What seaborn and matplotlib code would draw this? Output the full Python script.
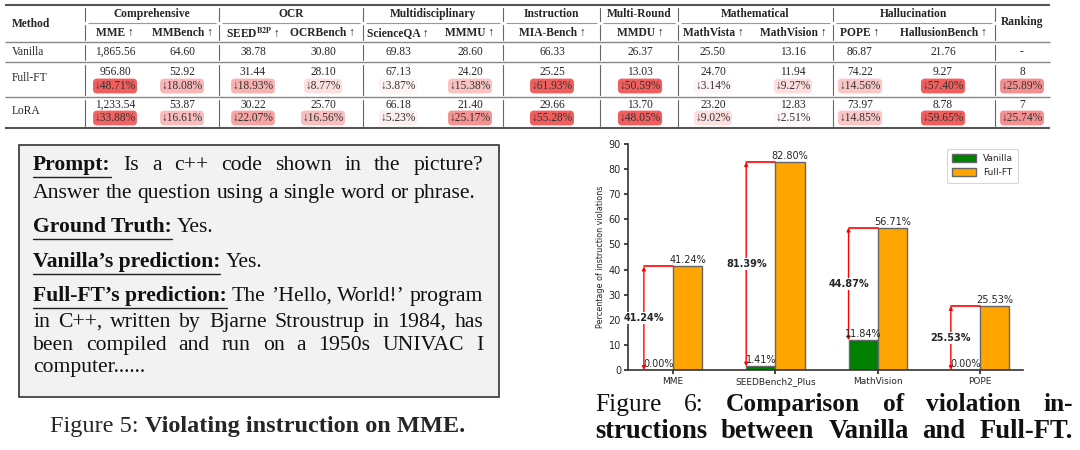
import matplotlib
matplotlib.use("Agg")
import matplotlib.pyplot as plt
import seaborn as sns
import pandas as pd
import numpy as np
from matplotlib.patches import Rectangle

# ---------------- data ----------------
methods = ["Vanilla", "Full-FT", "LoRA"]
group_names = ["Comprehensive", "OCR", "Multidisciplinary", "Instruction",
               "Multi-Round", "Mathematical", "Hallucination"]
group_sizes = [2, 2, 2, 1, 1, 2, 2]
bench_labels = ["MME ↑", "MMBench ↑", r"SEED$^{\mathbf{B2P}}$ ↑", "OCRBench ↑",
                "ScienceQA ↑", "MMMU ↑", "MIA-Bench ↑", "MMDU ↑",
                "MathVista ↑", "MathVision ↑", "POPE ↑", "HallusionBench ↑"]
vanilla_scores = [1865.56, 64.60, 38.78, 30.80, 69.83, 28.60, 66.33, 26.37,
                  25.50, 13.16, 86.87, 21.76]
fullft_scores = [956.80, 52.92, 31.44, 28.10, 67.13, 24.20, 25.25, 13.03,
                 24.70, 11.94, 74.22, 9.27]
lora_scores = [1233.54, 53.87, 30.22, 25.70, 66.18, 21.40, 29.66, 13.70,
               23.20, 12.83, 73.97, 8.78]
fullft_drops = [48.71, 18.08, 18.93, 8.77, 3.87, 15.38, 61.93, 50.59,
                3.14, 9.27, 14.56, 57.40]
lora_drops = [33.88, 16.61, 22.07, 16.56, 5.23, 25.17, 55.28, 48.05,
              9.02, 2.51, 14.85, 59.65]
ranking_values = ["-", "8", "7"]
ranking_drops = [None, 25.89, 25.74]

violation_benchmarks = ["MME", "SEEDBench2_Plus", "MathVision", "POPE"]
violation_vanilla = [0.00, 1.41, 11.84, 0.00]
violation_fullft = [41.24, 82.80, 56.71, 25.53]

# ---------------- setup ----------------
sns.set_theme(style="ticks")
plt.rcParams["font.family"] = ["DejaVu Sans"]
plt.rcParams["mathtext.fontset"] = "stix"
SERIF = ["Liberation Serif", "DejaVu Serif"]

W, H = 1080, 450
fig = plt.figure(figsize=(W / 100, H / 100), dpi=100)
fig.patch.set_facecolor("white")
cv = fig.add_axes([0, 0, 1, 1])
cv.set_xlim(0, W)
cv.set_ylim(H, 0)
cv.axis("off")
renderer = fig.canvas.get_renderer()

# ---------------- table ----------------
TFS = 8.3
col_x = [115, 182, 253, 323, 398, 470, 552, 640, 713, 793, 860, 943]
rank_x = 1022
seps = [85, 219, 363, 503, 600, 678, 833, 995]
tx0, tx1 = 5, 1050


def hline(y, x0, x1, lw, c):
    cv.plot([x0, x1], [y, y], color=c, lw=lw, solid_capstyle="butt")


hline(5, tx0, tx1, 1.5, "#555555")
hline(42, tx0, tx1, 1.0, "#888888")
hline(62, tx0, tx1, 1.0, "#888888")
hline(97, tx0, tx1, 1.0, "#888888")
hline(128, tx0, tx1, 1.5, "#555555")
for i in range(len(group_names)):
    hline(23, seps[i] + 3, seps[i + 1] - 3, 0.8, "#999999")

for y0, y1 in [(8, 21), (25, 40), (45, 60), (65, 95), (100, 126)]:
    for sx in seps:
        cv.plot([sx, sx], [y0, y1], color="#666666", lw=0.8)

cv.text(12, 24, "Method", fontsize=TFS, fontweight="bold", family=SERIF,
        ha="left", va="center")
cv.text(rank_x, 22, "Ranking", fontsize=TFS, fontweight="bold", family=SERIF,
        ha="center", va="center")
for i, g in enumerate(group_names):
    cv.text((seps[i] + seps[i + 1]) / 2, 14, g, fontsize=TFS, fontweight="bold",
            family=SERIF, ha="center", va="center")
for x, lab in zip(col_x, bench_labels):
    cv.text(x, 33, lab, fontsize=TFS, fontweight="bold", family=SERIF,
            ha="center", va="center")

red = np.array([0.94, 0.37, 0.37])


def drop_color(v):
    t = np.clip(v / 35.0, 0, 1) ** 1.2
    return tuple(1 - t * (1 - red))


def drop_text(x, y, v):
    cv.text(x, y, f"↓{v:.2f}%", fontsize=TFS, family=SERIF, ha="center",
            va="center", color="#333333",
            bbox=dict(boxstyle="round,pad=0.12,rounding_size=0.35",
                      fc=drop_color(v), ec="none"))


cv.text(12, 52, methods[0], fontsize=TFS, family=SERIF, ha="left", va="center")
cv.text(12, 78, methods[1], fontsize=TFS, family=SERIF, ha="left", va="center")
cv.text(12, 111, methods[2], fontsize=TFS, family=SERIF, ha="left", va="center")
for i, x in enumerate(col_x):
    cv.text(x, 52, f"{vanilla_scores[i]:,.2f}", fontsize=TFS, family=SERIF,
            ha="center", va="center")
    cv.text(x, 72, f"{fullft_scores[i]:,.2f}", fontsize=TFS, family=SERIF,
            ha="center", va="center")
    drop_text(x, 86, fullft_drops[i])
    cv.text(x, 105, f"{lora_scores[i]:,.2f}", fontsize=TFS, family=SERIF,
            ha="center", va="center")
    drop_text(x, 118, lora_drops[i])
cv.text(rank_x, 52, ranking_values[0], fontsize=TFS, family=SERIF, ha="center", va="center")
cv.text(rank_x, 72, ranking_values[1], fontsize=TFS, family=SERIF, ha="center", va="center")
drop_text(rank_x, 86, ranking_drops[1])
cv.text(rank_x, 105, ranking_values[2], fontsize=TFS, family=SERIF, ha="center", va="center")
drop_text(rank_x, 118, ranking_drops[2])

# ---------------- text box (Figure 5) ----------------
cv.add_patch(Rectangle((19, 145), 480, 252, fc="#f2f2f2", ec="#333333", lw=1.2))
BFS = 15.6


def draw_line(segments, x0, x1, y, size, justify):
    texts, widths = [], []
    for word, bold, under in segments:
        t = cv.text(x0, y, word, fontsize=size, family=SERIF,
                    fontweight="bold" if bold else "normal",
                    ha="left", va="baseline", color="#111111")
        bb = t.get_window_extent(renderer)
        texts.append(t)
        widths.append(bb.width)
    space = 0.25 * size * 100 / 72
    if justify and len(segments) > 1:
        gap = (x1 - x0 - sum(widths)) / (len(segments) - 1)
    else:
        gap = space
    x = x0
    for t, w, (word, bold, under) in zip(texts, widths, segments):
        t.set_x(x)
        if under:
            bb = t.get_window_extent(renderer)
            uy = H - bb.y0 + 1.5
            cv.plot([x, x + w], [uy, uy], color="#222222", lw=1.0)
        x += w + gap
    return x


def words(s, bold=False):
    return [(w, bold, False) for w in s.split()]


bx0, bx1 = 33, 483
draw_line([("Prompt:", True, True)] + words("Is a c++ code shown in the picture?"),
          bx0, bx1, 170, BFS, True)
draw_line(words("Answer the question using a single word or phrase."),
          bx0, bx1, 198, BFS, False)
draw_line([("Ground Truth:", True, True)] + words("Yes."), bx0, bx1, 232, BFS, False)
draw_line([("Vanilla’s prediction:", True, True)] + words("Yes."), bx0, bx1, 267, BFS, False)
draw_line([("Full-FT’s prediction:", True, True)] + words("The ’Hello, World!’ program"),
          bx0, bx1, 301, BFS, True)
draw_line(words("in C++, written by Bjarne Stroustrup in 1984, has"), bx0, bx1, 327, BFS, True)
draw_line(words("been compiled and run on a 1950s UNIVAC I"), bx0, bx1, 350, BFS, True)
draw_line(words("computer......"), bx0, bx1, 372, BFS, False)

# caption Figure 5 (centered)
CFS = 17.5
t1 = cv.text(0, 432, "Figure 5: ", fontsize=CFS, family=SERIF, ha="left", va="baseline")
t2 = cv.text(0, 432, "Violating instruction on MME.", fontsize=CFS, family=SERIF,
             fontweight="bold", ha="left", va="baseline")
w1 = t1.get_window_extent(renderer).width
w2 = t2.get_window_extent(renderer).width
start = 258 - (w1 + w2) / 2
t1.set_x(start)
t2.set_x(start + w1)

# caption Figure 6 (justified)
draw_line([("Figure", False, False), ("6:", False, False)] +
          words("Comparison of violation in-", True), 595, 1073, 411, 18.3, True)
draw_line(words("structions between Vanilla and Full-FT.", True), 595, 1073, 438, 19.2, True)

# ---------------- bar chart (Figure 6) ----------------
ax_l, ax_r, ax_t, ax_b = 628, 1023, 144, 370
bax = fig.add_axes([ax_l / W, (H - ax_b) / H, (ax_r - ax_l) / W, (ax_b - ax_t) / H])
df = pd.DataFrame({
    "Benchmark": violation_benchmarks * 2,
    "Model": ["Vanilla"] * len(violation_benchmarks) + ["Full-FT"] * len(violation_benchmarks),
    "Value": violation_vanilla + violation_fullft,
})
sns.barplot(data=df, x="Benchmark", y="Value", hue="Model",
            hue_order=["Vanilla", "Full-FT"],
            palette={"Vanilla": "green", "Full-FT": "orange"},
            width=0.57, edgecolor="#666666", linewidth=1.0, errorbar=None,
            saturation=1, ax=bax)
bax.set_ylim(0, 90)
bax.set_xlim(-0.44, 3.42)
bax.set_yticks(range(0, 91, 10))
bax.set_xlabel("")
bax.set_ylabel("Percentage of instruction violations", fontsize=5.8, labelpad=3)
bax.tick_params(axis="both", length=3, width=1.2, labelsize=7, pad=2)
bax.tick_params(axis="x", labelsize=6.5)
sns.despine(ax=bax)
for s in ["left", "bottom"]:
    bax.spines[s].set_linewidth(1.2)
    bax.spines[s].set_color("#333333")
bax.set_facecolor("white")

van_bars = bax.containers[0]
ft_bars = bax.containers[1]
for vb, fb, v, f in zip(van_bars, ft_bars, violation_vanilla, violation_fullft):
    xa = vb.get_x()
    xr = fb.get_x()
    bax.plot([xa, xr], [f, f], color="red", lw=1.2, zorder=3)
    bax.annotate("", xy=(xa, f), xytext=(xa, v),
                 arrowprops=dict(arrowstyle="<|-|>", color="red", lw=1.0,
                                 mutation_scale=5, shrinkA=0, shrinkB=0),
                 zorder=3)
    bax.text(xa, (v + f) / 2, f"{f - v:.2f}%", ha="center", va="center",
             fontsize=7, fontweight="bold", zorder=4,
             bbox=dict(fc="white", ec="none", pad=0.6))
    bax.text(vb.get_x() + vb.get_width() / 2, v + 0.4, f"{v:.2f}%",
             ha="center", va="bottom", fontsize=7, zorder=4)
    bax.text(fb.get_x() + fb.get_width() / 2, f + 0.4, f"{f:.2f}%",
             ha="center", va="bottom", fontsize=7, zorder=4)

leg = bax.legend(loc="upper right", fontsize=6.5, frameon=True,
                 handlelength=2.6, handleheight=0.9, borderpad=0.6,
                 labelspacing=0.6, bbox_to_anchor=(1.0, 1.0))
leg.get_frame().set_edgecolor("#cccccc")
leg.get_frame().set_linewidth(0.8)

fig.savefig("out.png", dpi=100, facecolor="white")
